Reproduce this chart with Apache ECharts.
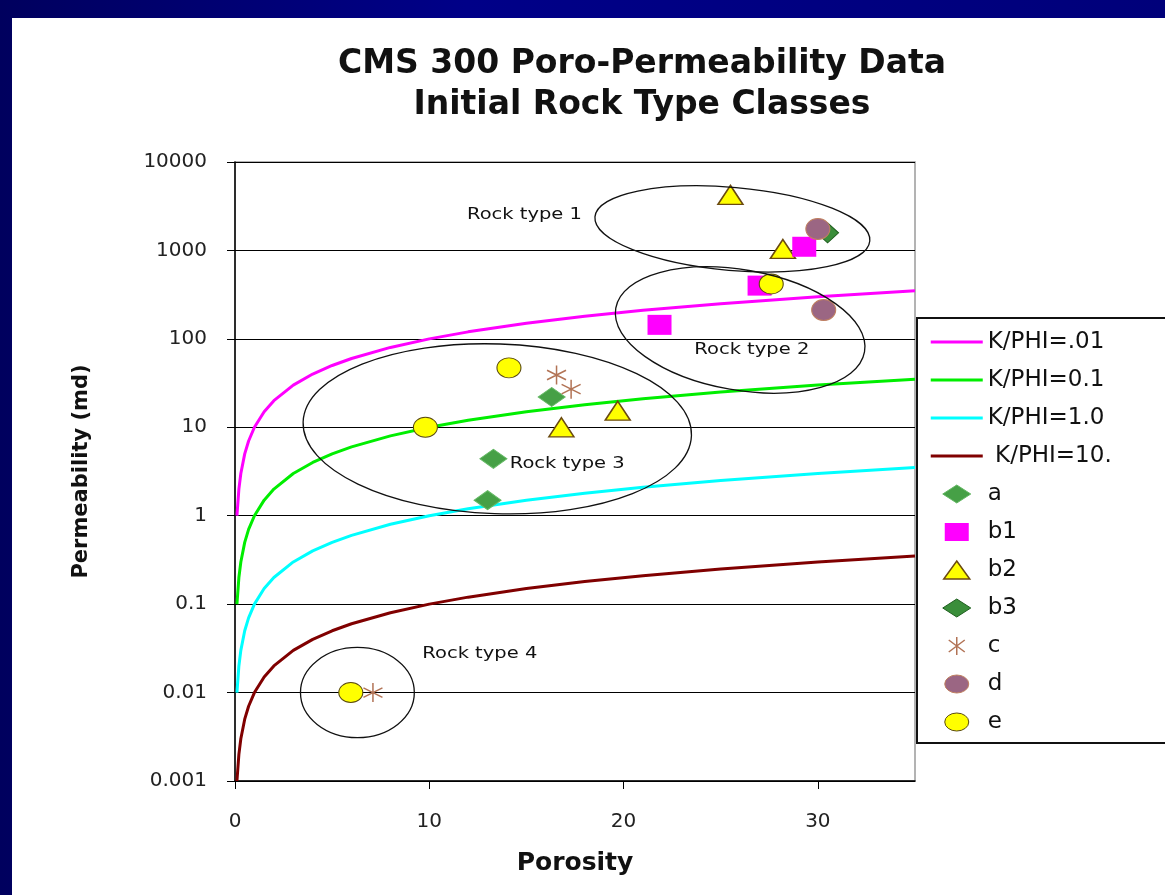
<!DOCTYPE html>
<html><head><meta charset="utf-8">
<script src="https://cdn.jsdelivr.net/npm/echarts@6/dist/echarts.min.js"></script>
<style>
html,body{margin:0;padding:0;}
body{width:1165px;height:895px;background:linear-gradient(90deg,#00005e,#000088 40%,#00007a);position:relative;overflow:hidden;}
#paper{position:absolute;left:12px;top:18px;right:0;bottom:0;background:#fff;}
#chart{position:absolute;left:0;top:0;width:1165px;height:895px;}
</style></head><body><div id="paper"></div><div id="chart"></div>
<script>
// ---- data ----
const porosity = [0.1,0.2,0.3,0.5,0.7,1,1.5,2,3,4,5,6,8,10,12,15,18,21,25,30,35];
const kphi001  = [1,2,3,5,7,10,15,20,30,40,50,60,80,100,120,150,180,210,250,300,350];
const kphi01   = [0.1,0.2,0.3,0.5,0.7,1,1.5,2,3,4,5,6,8,10,12,15,18,21,25,30,35];
const kphi1    = [0.01,0.02,0.03,0.05,0.07,0.1,0.15,0.2,0.3,0.4,0.5,0.6,0.8,1,1.2,1.5,1.8,2.1,2.5,3,3.5];
const kphi10   = [0.001,0.002,0.003,0.005,0.007,0.01,0.015,0.02,0.03,0.04,0.05,0.06,0.08,0.1,0.12,0.15,0.18,0.21,0.25,0.3,0.35];

const ptsA  = [[16.3,22],[13.3,4.4],[13.0,1.5]];
const ptsB1 = [[29.3,1100],[27.0,400],[21.85,144]];
const ptsB2 = [[25.5,4250],[28.2,1040],[16.8,10],[19.7,15.4]];
const ptsB3 = [[30.5,1580]];
const ptsC  = [[16.55,39],[17.3,27],[7.1,0.01]];
const ptsD  = [[30.0,1750],[30.3,212]];
const ptsE  = [[27.6,418],[14.1,47],[9.8,10],[5.96,0.01]];

const xTicks = [0,10,20,30];
const yTickLabels = ['0.001','0.01','0.1','1','10','100','1000','10000'];

// annotation ellipses in data space (center porosity, center K, x-radius in porosity units, y-radius in decades)
const rockTypes = [
  {label:'Rock type 1', cx:25.6, cy:1750, rx:7.1, ry:0.47, rot:-5,  lx:14.9, ly:2500},
  {label:'Rock type 2', cx:26.0, cy:126,  rx:6.5, ry:0.68, rot:-10, lx:26.6, ly:75},
  {label:'Rock type 3', cx:13.5, cy:9.6,  rx:10.0, ry:0.96, rot:-2, lx:17.1, ly:3.87},
  {label:'Rock type 4', cx:6.3,  cy:0.01, rx:2.93, ry:0.51, rot:0,  lx:12.6, ly:0.0275}
];

const zip = (xs, ys) => xs.map((x,i)=>[x, ys[i]]);
const FONT = 'DejaVu Sans';

const box = 'M0,0M52,20';
const icLine    = 'path://' + box + 'M0,8.5L52,8.5L52,11.5L0,11.5Z';
const icDiamond = 'path://' + box + 'M12,10L26,1L40,10L26,19Z';
const icSquare  = 'path://' + box + 'M14,1L38,1L38,19L14,19Z';
const icTri     = 'path://' + box + 'M26,1L39,19L13,19Z';
const icStar    = 'path://' + box + 'M26,1L26,19M18,4L34,16M18,16L34,4';
const icCircle  = 'path://' + box + 'M14,10A12,9 0 1 1 38,10A12,9 0 1 1 14,10Z';
const starSym   = 'path://M0,-10L0,10M-8.66,-5L8.66,5M-8.66,5L8.66,-5';

const lineColors = {'K/PHI=.01':'#ff00ff', 'K/PHI=0.1':'#00ee00', 'K/PHI=1.0':'#00ffff', ' K/PHI=10.':'#800000'};
const lineSeries = (name, data) => ({
  name, type:'line', data: zip(porosity, data), symbol:'none', showSymbol:false,
  lineStyle:{color:lineColors[name], width:3}, itemStyle:{color:lineColors[name]}, z:3, silent:true
});

const styles = {
  a:  {color:'#46a046', borderColor:'#63b863', borderWidth:1, opacity:1},
  b1: {color:'#ff00ff', borderWidth:0, opacity:1},
  b2: {color:'#ffff00', borderColor:'#6b4a10', borderWidth:1.5, opacity:1},
  b3: {color:'#3a8e3a', borderColor:'#1f5f1f', borderWidth:1, opacity:1},
  c:  {color:'transparent', borderColor:'#b27355', borderWidth:1.5, opacity:1},
  d:  {color:'#9b6683', borderColor:'#c08060', borderWidth:1, opacity:1},
  e:  {color:'#ffff00', borderColor:'#5a4a10', borderWidth:1, opacity:1}
};
const lineItem = name => ({name, icon:icLine, itemStyle:{color:lineColors[name], borderWidth:0, opacity:1}});

const chart = echarts.init(document.getElementById('chart'), null, {renderer:'canvas'});
chart.setOption({
  backgroundColor:'transparent',
  animation:false,
  title:{
    text:'CMS 300 Poro-Permeability Data\nInitial Rock Type Classes',
    left:637, top:39, textAlign:'center',
    textStyle:{fontFamily:FONT, fontWeight:'bold', fontSize:33, lineHeight:41, color:'#111'}
  },
  grid:{left:235, top:162, right:250, bottom:114, show:true, borderColor:'#9a9a9a', borderWidth:1.5},
  xAxis:{
    type:'value', min:0, max:35, interval:10,
    name:'Porosity', nameLocation:'middle', nameGap:70,
    nameTextStyle:{fontFamily:FONT, fontWeight:'bold', fontSize:25, color:'#111'},
    axisLine:{show:true, onZero:false, lineStyle:{color:'#000', width:1.5}},
    axisTick:{show:true, inside:false, length:8, lineStyle:{color:'#000'}, customValues:xTicks},
    axisLabel:{fontFamily:FONT, fontSize:20, color:'#222', margin:31, customValues:xTicks},
    splitLine:{show:false}
  },
  yAxis:{
    type:'log', logBase:10, min:0.001, max:10000,
    name:'Permeability (md)', nameLocation:'middle', nameGap:143,
    nameTextStyle:{fontFamily:FONT, fontWeight:'bold', fontSize:21, color:'#111'},
    axisLine:{show:true, lineStyle:{color:'#000', width:1.5}},
    axisTick:{show:true, inside:false, length:8, lineStyle:{color:'#000'}},
    axisLabel:{fontFamily:FONT, fontSize:20, color:'#222', margin:28,
      formatter: v => yTickLabels[Math.round(Math.log10(v)) + 3]},
    splitLine:{show:true, lineStyle:{color:'#000', width:1.2}},
    minorTick:{show:false}
  },
  legend:{
    orient:'vertical', left:925, top:325, itemWidth:52, itemHeight:20, itemGap:14,
    selectedMode:false,
    textStyle:{fontFamily:FONT, fontSize:23, color:'#111', lineHeight:24, padding:[0,0,0,0]},
    data:[
      lineItem('K/PHI=.01'), lineItem('K/PHI=0.1'), lineItem('K/PHI=1.0'), lineItem(' K/PHI=10.'),
      {name:'a',  icon:icDiamond, itemStyle:styles.a},
      {name:'b1', icon:icSquare,  itemStyle:styles.b1},
      {name:'b2', icon:icTri,     itemStyle:styles.b2},
      {name:'b3', icon:icDiamond, itemStyle:styles.b3},
      {name:'c',  icon:icStar,    itemStyle:styles.c},
      {name:'d',  icon:icCircle,  itemStyle:styles.d},
      {name:'e',  icon:icCircle,  itemStyle:styles.e}
    ]
  },
  series:[
    lineSeries('K/PHI=.01', kphi001),
    lineSeries('K/PHI=0.1', kphi01),
    lineSeries('K/PHI=1.0', kphi1),
    lineSeries(' K/PHI=10.', kphi10),
    {name:'b2', type:'scatter', data:ptsB2, symbol:'triangle', symbolSize:[25,19], itemStyle:styles.b2, z:4},
    {name:'a',  type:'scatter', data:ptsA,  symbol:'diamond',  symbolSize:[27,19], itemStyle:styles.a, z:4},
    {name:'b3', type:'scatter', data:ptsB3, symbol:'diamond',  symbolSize:[22,20], itemStyle:styles.b3, z:4},
    {name:'b1', type:'scatter', data:ptsB1, symbol:'rect',     symbolSize:[24,20], itemStyle:styles.b1, z:5},
    {name:'c',  type:'scatter', data:ptsC,  symbol:starSym,    symbolSize:[19,19], itemStyle:styles.c, z:5},
    {name:'d',  type:'scatter', data:ptsD,  symbol:'circle',   symbolSize:[24,21], itemStyle:styles.d, z:6},
    {name:'e',  type:'scatter', data:ptsE,  symbol:'circle',   symbolSize:[24,20], itemStyle:styles.e, z:6}
  ]
});

// annotations placed through the chart's own scales
const px = p => chart.convertToPixel({gridIndex:0}, p);
const graphics = [];
rockTypes.forEach(r => {
  const c = px([r.cx, r.cy]);
  const ex = px([r.cx + r.rx, r.cy]);
  const ey = px([r.cx, r.cy * Math.pow(10, r.ry)]);
  graphics.push({
    type:'ellipse', x:c[0], y:c[1], rotation: r.rot * Math.PI / 180,
    shape:{cx:0, cy:0, rx:Math.abs(ex[0]-c[0]), ry:Math.abs(c[1]-ey[1])},
    style:{fill:'none', stroke:'#111', lineWidth:1.3}, z:10, silent:true
  });
  const l = px([r.lx, r.ly]);
  graphics.push({
    type:'text', x:l[0], y:l[1], scaleX:1.3, z:11, silent:true,
    style:{text:r.label, fontFamily:FONT, fontSize:15, fill:'#111', align:'center', verticalAlign:'middle'}
  });
});
// legend frame (extends past the right edge as in the reference)
graphics.push({type:'rect', shape:{x:917, y:318, width:300, height:425},
  style:{fill:'#fff', stroke:'#111', lineWidth:2}, z:-1, silent:true});
chart.setOption({graphic:graphics});
</script></body></html>
